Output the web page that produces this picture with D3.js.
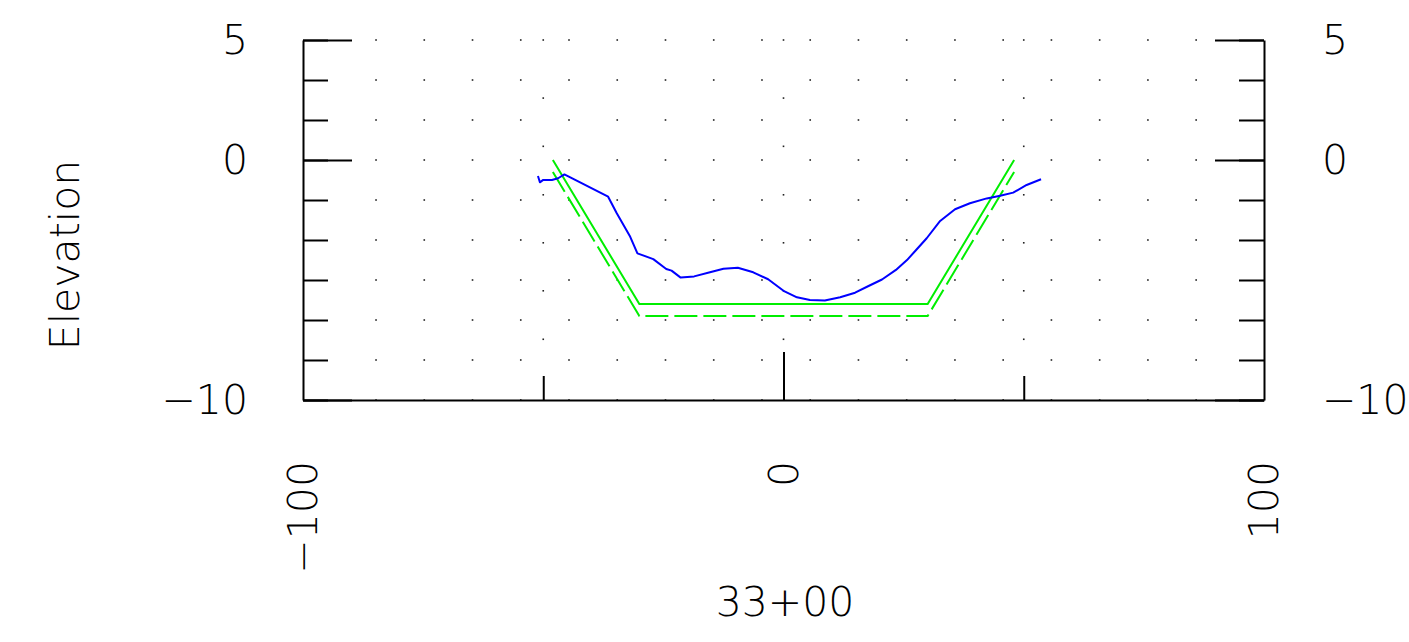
<!DOCTYPE html>
<html>
<head>
<meta charset="utf-8">
<script src="https://cdn.jsdelivr.net/npm/d3@7"></script>
<style>
  html, body { margin: 0; padding: 0; background: #fff; }
  svg { display: block; }
  text { font-family: "DejaVu Sans", sans-serif; font-weight: 200; fill: #000; }
</style>
</head>
<body>
<svg id="chart" width="1409" height="642"></svg>
<script>
// ---- data ----
const groundX = [-51.1, -50.7, -50.0, -48.2, -46.9, -45.6, -36.5, -34.7, -31.9, -30.4, -27.1, -24.4, -23.3, -21.4, -18.6, -15.3, -12.5, -9.5, -6.3, -3.2, 0.0, 2.8, 5.5, 8.6, 11.8, 14.9, 17.7, 20.5, 23.4, 25.7, 27.6, 29.8, 32.6, 35.7, 38.8, 42.3, 45.1, 47.8, 50.6, 53.6];
const groundY = [-0.67, -0.93, -0.83, -0.83, -0.76, -0.60, -1.53, -2.22, -3.20, -3.89, -4.13, -4.54, -4.61, -4.90, -4.85, -4.68, -4.53, -4.49, -4.68, -4.97, -5.45, -5.72, -5.83, -5.85, -5.72, -5.53, -5.25, -4.98, -4.58, -4.17, -3.75, -3.26, -2.54, -2.05, -1.80, -1.60, -1.49, -1.36, -1.04, -0.80];
const designX = [-48, -30, 30, 48];
const designY = [0, -6, -6, 0];
const subgradeX = [-48, -30, 30, 48];
const subgradeY = [-0.5, -6.5, -6.5, -0.5];
const yTicksMinor = [5, 3.333, 1.667, 0, -1.667, -3.333, -5, -6.667, -8.333, -10];
const yTicksMajor = [5, 0, -10];
const xTicksMinor = [-50, 50];
const xTicksMajor = [0];
const xTickLabels = [-100, 0, 100];
const stationLabel = "33+00";
const yTitle = "Elevation";
// dot grids (reference graph paper)
const gridAX = d3.range(18).map(i => -84.8 + i * 10.04);
const gridAY = yTicksMinor;
const gridBX = [-50, 0, 50];
const gridBY = [5, 2.58, 0.57, -1.45, -3.45, -5.45, -7.47];

// ---- layout ----
const svg = d3.select("#chart");
const x = d3.scaleLinear().domain([-100, 100]).range([303, 1264]);
const y = d3.scaleLinear().domain([-10, 5]).range([400, 40]);
const fmt = d3.format("");
const FS = 41;

// dot grids
const dotsA = [];
gridAX.forEach(gx => gridAY.forEach(gy => dotsA.push([gx, gy])));
const dotsB = [];
gridBX.forEach(gx => gridBY.forEach(gy => dotsB.push([gx, gy])));
svg.append("g").selectAll("rect").data(dotsA.concat(dotsB)).join("rect")
  .attr("x", d => x(d[0]) - 0.8).attr("y", d => y(d[1]) - 0.8)
  .attr("width", 1.6).attr("height", 1.6).attr("fill", "#222");

// axes
function styleAxis(g) {
  g.selectAll("path.domain").attr("stroke", "#000").attr("stroke-width", 2);
  g.selectAll(".tick line").attr("stroke", "#000").attr("stroke-width", 2);
  g.selectAll("text").attr("font-family", null).attr("font-size", FS).style("font-family", "'DejaVu Sans', sans-serif").style("font-weight", 200);
}
// left
svg.append("g").attr("transform", "translate(303,0)")
  .call(d3.axisLeft(y).tickValues(yTicksMinor).tickSizeInner(-25).tickSizeOuter(0).tickFormat(""))
  .call(styleAxis);
svg.append("g").attr("transform", "translate(303,0)")
  .call(d3.axisLeft(y).tickValues(yTicksMajor).tickSizeInner(-49).tickSizeOuter(0).tickPadding(55).tickFormat(fmt))
  .call(styleAxis)
  .call(g => g.selectAll("path.domain").remove());
// right
svg.append("g").attr("transform", "translate(1264,0)")
  .call(d3.axisRight(y).tickValues(yTicksMinor).tickSizeInner(-25).tickSizeOuter(0).tickFormat(""))
  .call(styleAxis);
svg.append("g").attr("transform", "translate(1264,0)")
  .call(d3.axisRight(y).tickValues(yTicksMajor).tickSizeInner(-49).tickSizeOuter(0).tickPadding(58).tickFormat(fmt))
  .call(styleAxis)
  .call(g => g.selectAll("path.domain").remove());
// bottom
svg.append("g").attr("transform", "translate(0,400)")
  .call(d3.axisBottom(x).tickValues(xTicksMinor).tickSizeInner(-24).tickSizeOuter(0).tickFormat(""))
  .call(styleAxis);
svg.append("g").attr("transform", "translate(0,400)")
  .call(d3.axisBottom(x).tickValues(xTicksMajor).tickSizeInner(-48).tickSizeOuter(0).tickFormat(""))
  .call(styleAxis)
  .call(g => g.selectAll("path.domain").remove());

// rotated x labels
svg.append("g").selectAll("text").data(xTickLabels).join("text")
  .attr("transform", d => `translate(${x(d)},461) rotate(-90)`)
  .attr("text-anchor", "end")
  .attr("dy", "0.35em")
  .attr("font-size", FS)
  .text(d => fmt(d));

// titles
svg.append("text")
  .attr("transform", "translate(65,255) rotate(-90)")
  .attr("text-anchor", "middle").attr("dy", "0.35em")
  .attr("font-size", FS)
  .text(yTitle);
svg.append("text")
  .attr("x", 785).attr("y", 602)
  .attr("text-anchor", "middle").attr("dy", "0.35em")
  .attr("font-size", FS)
  .text(stationLabel);

// lines
const line = d3.line().x(d => x(d[0])).y(d => y(d[1]));
svg.append("path")
  .datum(subgradeX.map((v, i) => [v, subgradeY[i]]))
  .attr("d", line).attr("fill", "none")
  .attr("stroke", "#00ee00").attr("stroke-width", 2)
  .attr("stroke-dasharray", "23,6");
svg.append("path")
  .datum(designX.map((v, i) => [v, designY[i]]))
  .attr("d", line).attr("fill", "none")
  .attr("stroke", "#00ee00").attr("stroke-width", 2);
svg.append("path")
  .datum(groundX.map((v, i) => [v, groundY[i]]))
  .attr("d", line).attr("fill", "none")
  .attr("stroke", "#0000ff").attr("stroke-width", 2)
  .attr("stroke-linejoin", "round");
</script>
</body>
</html>
